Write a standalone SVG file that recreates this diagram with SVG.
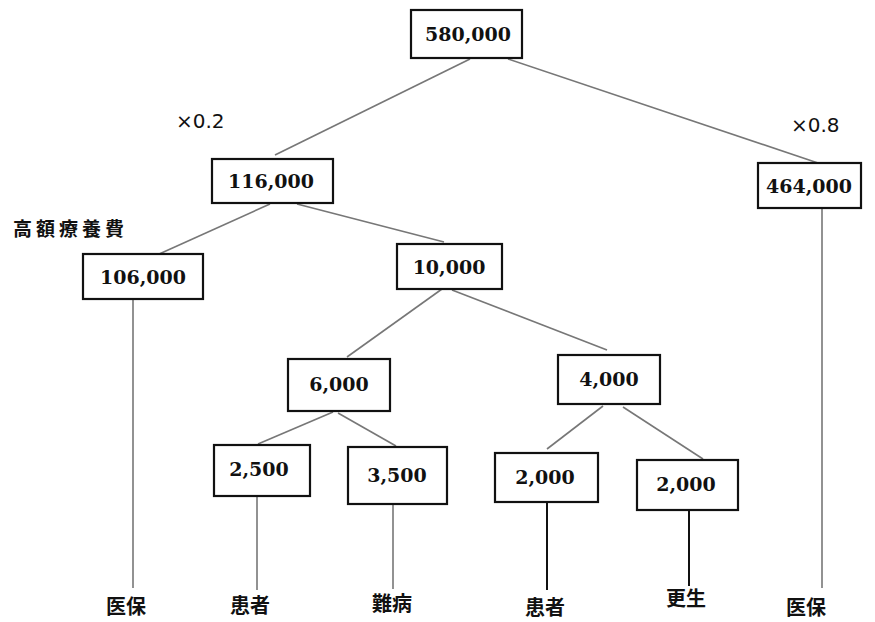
<svg xmlns="http://www.w3.org/2000/svg" width="875" height="622" viewBox="0 0 875 622">
<style>
.box{fill:#fff;stroke:#111;stroke-width:2.2}
.num{font-family:"DejaVu Serif","Liberation Serif",serif;font-size:19px;font-weight:bold;fill:#111;text-anchor:middle}
.mul{font-family:"DejaVu Sans","Liberation Sans",sans-serif;font-size:20px;fill:#111}
.jp{font-family:"Noto Sans CJK JP","Noto Sans CJK SC",sans-serif;font-size:20px;font-weight:bold;fill:#111;text-anchor:middle}
.ln{stroke:#777;stroke-width:1.6;fill:none}
.lnd{stroke:#111;stroke-width:2;fill:none}
</style>
<rect width="875" height="622" fill="#fff"/>
<g id="connectors">
<line class="ln" x1="470" y1="59" x2="275" y2="155"/>
<line class="ln" x1="508" y1="59" x2="818" y2="163"/>
<line class="ln" x1="270" y1="204" x2="157" y2="255"/>
<line class="ln" x1="297" y1="204" x2="444" y2="242"/>
<line class="ln" x1="442" y1="289" x2="347" y2="357"/>
<line class="ln" x1="452" y1="290" x2="607" y2="350"/>
<line class="ln" x1="333" y1="412" x2="258" y2="444"/>
<line class="ln" x1="338" y1="413" x2="396" y2="446"/>
<line class="ln" x1="603" y1="406" x2="547" y2="449"/>
<line class="ln" x1="623" y1="407" x2="703" y2="459"/>
<line class="ln" x1="133" y1="300" x2="133" y2="588"/>
<line class="ln" x1="257" y1="497" x2="257" y2="590"/>
<line class="ln" x1="393" y1="505" x2="393" y2="589"/>
<line class="lnd" x1="547" y1="503" x2="547" y2="590"/>
<line class="lnd" x1="689" y1="511" x2="689" y2="586"/>
<line class="ln" x1="822" y1="209" x2="822" y2="588"/>
</g>
<g id="n580"><rect class="box" x="411" y="10" width="111" height="48"/><text class="num" x="468" y="41">580,000</text></g>
<g id="n116"><rect class="box" x="212" y="159" width="121" height="44"/><text class="num" x="271" y="188">116,000</text></g>
<g id="n464"><rect class="box" x="758" y="163" width="103" height="45"/><text class="num" x="809" y="193">464,000</text></g>
<g id="n106"><rect class="box" x="83" y="254" width="120" height="45"/><text class="num" x="143" y="284">106,000</text></g>
<g id="n10"><rect class="box" x="397" y="244" width="105" height="45"/><text class="num" x="449" y="274">10,000</text></g>
<g id="n6"><rect class="box" x="288" y="359" width="102" height="52"/><text class="num" x="339" y="391">6,000</text></g>
<g id="n4"><rect class="box" x="558" y="355" width="102" height="49"/><text class="num" x="609" y="386">4,000</text></g>
<g id="n2500"><rect class="box" x="214" y="445" width="96" height="51"/><text class="num" x="259" y="476">2,500</text></g>
<g id="n3500"><rect class="box" x="348" y="447" width="99" height="57"/><text class="num" x="397" y="482">3,500</text></g>
<g id="n2000a"><rect class="box" x="495" y="453" width="103" height="49"/><text class="num" x="545" y="484">2,000</text></g>
<g id="n2000b"><rect class="box" x="637" y="460" width="101" height="50"/><text class="num" x="686" y="491">2,000</text></g>
<g id="labels">
<text class="mul" x="176" y="128">×0.2</text>
<text class="mul" x="791" y="132">×0.8</text>
<text class="jp" x="13" y="236" style="text-anchor:start;font-size:19px;letter-spacing:4px">高額療養費</text>
<text class="jp" x="126" y="614">医保</text>
<text class="jp" x="250" y="613">患者</text>
<text class="jp" x="392" y="611">難病</text>
<text class="jp" x="545" y="615">患者</text>
<text class="jp" x="686" y="606">更生</text>
<text class="jp" x="806" y="615">医保</text>
</g>
</svg>
